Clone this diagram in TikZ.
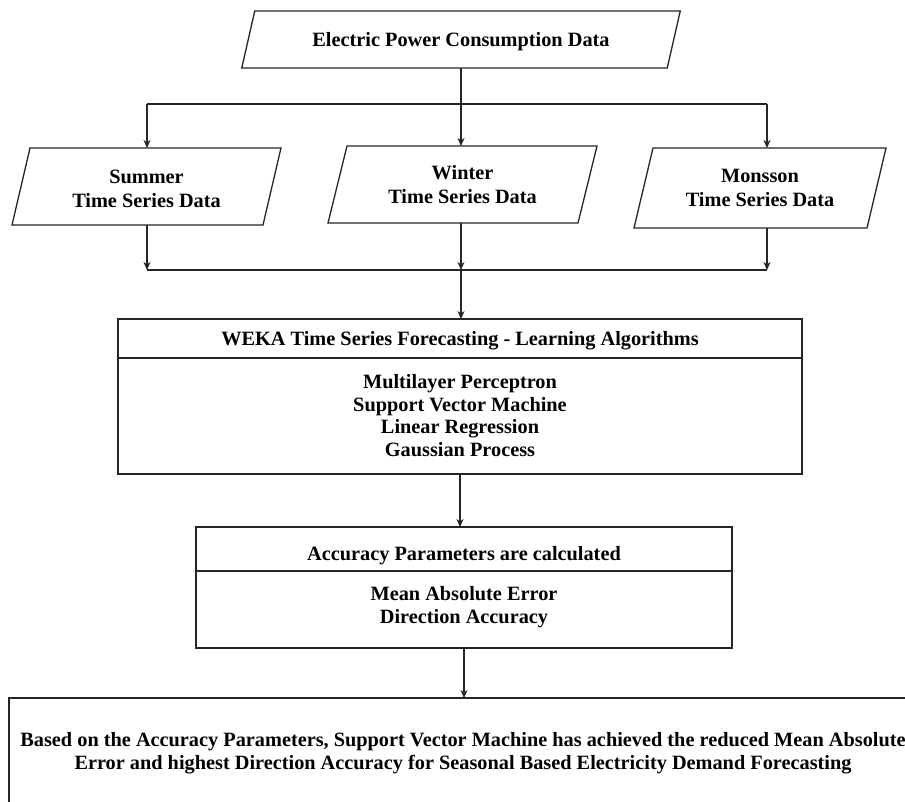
\documentclass[tikz,border=0pt]{standalone}
\usepackage{fontspec}
\setmainfont{Liberation Serif}
\usetikzlibrary{arrows.meta,calc}
\newcommand{\parashape}[2]{\draw[boxline] ([xshift=#2]#1.north west) -- ([xshift=#2]#1.north east) -- ([xshift=-#2]#1.south east) -- ([xshift=-#2]#1.south west) -- cycle;}
\tikzset{
  boxline/.style={draw=black!85, line width=1.3pt, line join=miter},
  txt/.style={font=\bfseries\fontsize{20.3}{23.5}\selectfont, align=center, inner sep=0pt, outer sep=0pt, text height=13.4pt, text depth=0pt},
  para/.style={txt},
  rbox/.style={txt, boxline, font=\bfseries\fontsize{20.3}{22.5}\selectfont},
  conn/.style={draw=black!85, line width=1.3pt},
  arr/.style={conn, -{Stealth[length=8pt,width=7pt,inset=2.5pt]}},
}
\begin{document}
\begin{tikzpicture}[x=1pt,y=-1pt]
\useasboundingbox (0,0) rectangle (905,801);
\fill[white] (0,0) rectangle (905,801);
\clip (0,0) rectangle (905,801);
% input data
\node[para, minimum width=425.5pt, minimum height=57pt] (top) at (461,39.5) {Electric Power Consumption Data};
\node[para, minimum width=251pt, minimum height=77pt, text height=41.9pt] (sum) at (146.5,186.5) {Summer\\Time Series Data};
\node[para, minimum width=250pt, minimum height=77pt, text height=37.9pt] (win) at (462.5,184.5) {Winter\\Time Series Data};
\node[para, minimum width=233pt, minimum height=80pt, text height=36.9pt] (mon) at (760,188) {Monsson\\Time Series Data};
\parashape{top}{6.5pt}
\parashape{sum}{9pt}
\parashape{win}{9.5pt}
\parashape{mon}{9.5pt}
% algorithm boxes
\node[rbox, minimum width=684pt, minimum height=39pt] (wekat) at (460,338.5) {WEKA Time Series Forecasting - Learning Algorithms};
\node[rbox, minimum width=684pt, minimum height=116pt, text height=80.9pt] (wekab) at (460,416) {Multilayer Perceptron\\Support Vector Machine\\Linear Regression\\Gaussian Process};
\node[rbox, minimum width=536pt, minimum height=44pt, text height=22.4pt] (acct) at (464,549) {Accuracy Parameters are calculated};
\node[rbox, minimum width=536pt, minimum height=77pt, text height=35.9pt, text depth=8pt] (accb) at (464,609.5) {Mean Absolute Error\\Direction Accuracy};
\node[rbox, minimum width=908pt, minimum height=132pt, text height=34.9pt, text depth=24pt] (res) at (463,764) {Based on the Accuracy Parameters, Support Vector Machine has achieved the reduced Mean Absolute\\Error and highest Direction Accuracy for Seasonal Based Electricity Demand Forecasting};
% connectors
\coordinate (tL) at (147,104);
\coordinate (tM) at (461,104);
\coordinate (tR) at (767,104);
\coordinate (bL) at (147,270);
\coordinate (bM) at (461,270);
\coordinate (bR) at (767,270);
\draw[conn] (top.south) -- (tM);
\draw[conn] (tL) -- (tR);
\draw[arr] (tL) -- (tL |- sum.north);
\draw[arr] (tM) -- (tM |- win.north);
\draw[arr] (tR) -- (tR |- mon.north);
\draw[arr] (bL |- sum.south) -- (bL);
\draw[arr] (bM |- win.south) -- (bM);
\draw[arr] (bR |- mon.south) -- (bR);
\draw[conn] (bL) -- (bR);
\draw[arr] (bM) -- (bM |- wekat.north);
\draw[arr] (wekab.south) -- (wekab.south |- acct.north);
\draw[arr] (accb.south) -- (accb.south |- res.north);
\end{tikzpicture}
\end{document}
